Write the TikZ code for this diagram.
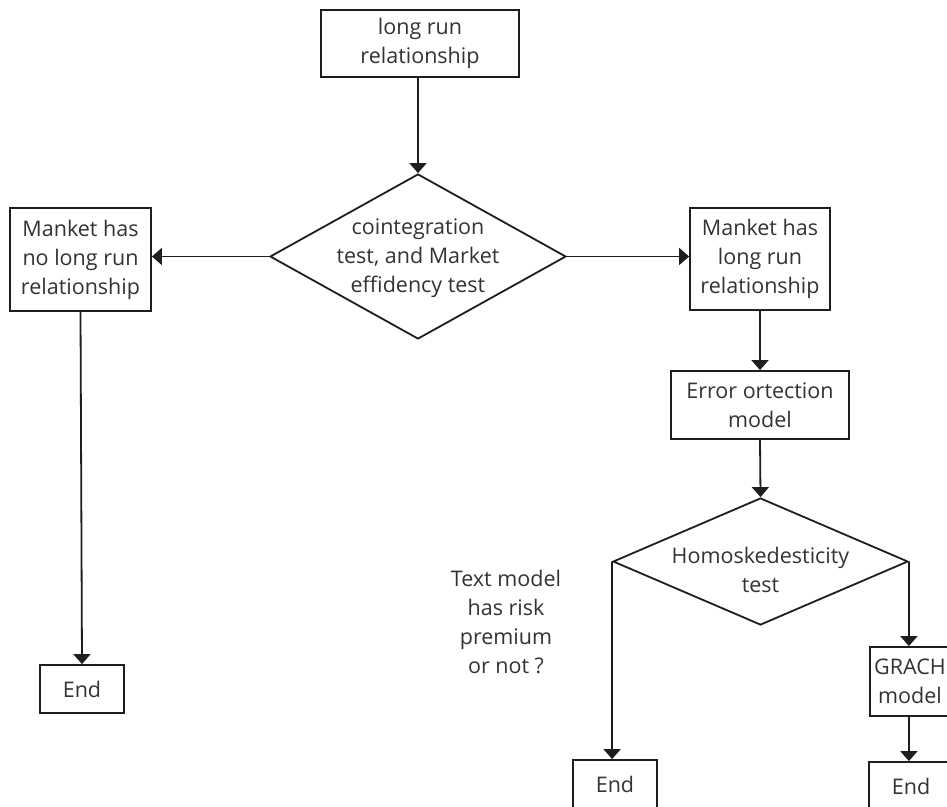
\documentclass[tikz,border=0pt]{standalone}
\usepackage{fontspec}
\setmainfont{Open Sans}
\usetikzlibrary{arrows.meta,shapes.geometric}
\definecolor{txt}{HTML}{333333}
\definecolor{ln}{HTML}{1E1E1E}
\begin{document}
\begin{tikzpicture}[x=1pt,y=-1pt,
  box/.style={draw=ln,line width=1.8pt,rectangle,inner sep=0pt,align=center,text=txt,font=\fontsize{21.5}{29}\selectfont},
  dia/.style={draw=ln,line width=1.8pt,diamond,inner sep=0pt},
  lbl/.style={align=center,text=txt,font=\fontsize{21.5}{29}\selectfont,inner sep=0pt},
  arr/.style={draw=ln,line width=1.8pt,-{Triangle[length=10pt,width=17pt]}}]
\useasboundingbox (0,0) rectangle (947,806);
\fill[white] (0,0) rectangle (947,806);
% nodes
\node[box,minimum width=198pt,minimum height=67pt] (top) at (420,43.5) {long run\\relationship};
\node[dia,minimum width=296pt,minimum height=165pt] (d1) at (418,256.5) {};
\node[lbl] (d1t) at (418,258) {cointegration\\test, and Market\\effidency test};
\node[box,minimum width=141pt,minimum height=103pt] (lbox) at (80.5,259.5) {Manket has\\no long run\\relationship};
\node[box,minimum width=140pt,minimum height=102pt] (rbox) at (760,259) {Manket has\\long run\\relationship};
\node[box,minimum width=178pt,minimum height=68pt] (ecm) at (760,405) {Error ortection\\model};
\node[dia,minimum width=295pt,minimum height=127pt] (d2) at (760.5,561.5) {};
\node[lbl] (d2t) at (760.5,570) {Homoskedesticity\\test};
\node[lbl] (note) at (506,622) {Text model\\has risk\\premium\\or not ?};
\node[box,minimum width=84pt,minimum height=48pt] (endl) at (82,689) {End};
\node[box,minimum width=84pt,minimum height=48pt] (endm) at (615,784) {End};
\node[box,minimum width=80pt,minimum height=69pt] (grach) at (910,681.5) {GRACH\\model};
\node[box,minimum width=84pt,minimum height=48pt] (endr) at (911,786) {End};
% connectors
\draw[arr] (top.south -| d1.north) -- (d1.north);
\draw[arr] (d1.west) -- (lbox.east |- d1.west);
\draw[arr] (d1.east) -- (rbox.west |- d1.east);
\draw[arr] (rbox.south) -- (ecm.north);
\draw[arr] (ecm.south) -- (d2.north);
\draw[arr] (lbox.south) -- (endl.north);
\draw[arr] (d2.west) -- (d2.west |- endm.north);
\draw[arr] (d2.east) -- (d2.east |- grach.north);
\draw[arr] (d2.east |- grach.south) -- (d2.east |- endr.north);
\end{tikzpicture}
\end{document}
